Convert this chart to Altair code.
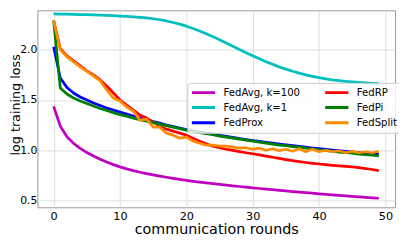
import altair as alt
import pandas as pd

rounds = list(range(50))

fedavg_k100 = [1.437, 1.24, 1.135, 1.068, 1.018, 0.977, 0.942, 0.91, 0.882, 0.857,
               0.834, 0.814, 0.797, 0.781, 0.767, 0.754, 0.742, 0.731, 0.72, 0.71,
               0.70, 0.691, 0.683, 0.675, 0.667, 0.66, 0.653, 0.646, 0.639, 0.632,
               0.625, 0.619, 0.613, 0.607, 0.601, 0.595, 0.589, 0.583, 0.577, 0.572,
               0.566, 0.561, 0.556, 0.55, 0.545, 0.54, 0.535, 0.53, 0.526, 0.522]
fedavg_k1 = [2.357, 2.356, 2.355, 2.353, 2.351, 2.349, 2.347, 2.345, 2.342, 2.339,
             2.336, 2.332, 2.328, 2.323, 2.317, 2.309, 2.299, 2.287, 2.272, 2.255,
             2.235, 2.212, 2.187, 2.16, 2.131, 2.1, 2.068, 2.036, 2.003, 1.971,
             1.94, 1.91, 1.882, 1.855, 1.83, 1.807, 1.786, 1.767, 1.75, 1.735,
             1.722, 1.711, 1.701, 1.693, 1.686, 1.68, 1.675, 1.67, 1.666, 1.662]
fedprox = [2.03, 1.72, 1.625, 1.57, 1.53, 1.50, 1.47, 1.445, 1.42, 1.40,
           1.38, 1.36, 1.34, 1.32, 1.30, 1.285, 1.27, 1.25, 1.235, 1.22,
           1.205, 1.195, 1.18, 1.17, 1.16, 1.148, 1.138, 1.127, 1.117, 1.107,
           1.097, 1.088, 1.079, 1.07, 1.062, 1.054, 1.046, 1.038, 1.03, 1.022,
           1.015, 1.008, 1.001, 0.995, 0.989, 0.983, 0.977, 0.972, 0.967, 0.962]
fedrp = [2.29, 2.01, 1.94, 1.89, 1.84, 1.79, 1.75, 1.70, 1.64, 1.57,
         1.50, 1.45, 1.40, 1.35, 1.32, 1.28, 1.24, 1.21, 1.19, 1.17,
         1.15, 1.12, 1.09, 1.065, 1.04, 1.025, 1.01, 0.998, 0.986, 0.975,
         0.965, 0.953, 0.942, 0.93, 0.918, 0.907, 0.897, 0.887, 0.878, 0.87,
         0.863, 0.857, 0.85, 0.844, 0.839, 0.834, 0.826, 0.818, 0.808, 0.797]
fedpi = [2.29, 1.62, 1.56, 1.52, 1.49, 1.465, 1.44, 1.415, 1.395, 1.375,
         1.355, 1.34, 1.32, 1.305, 1.29, 1.275, 1.26, 1.245, 1.23, 1.215,
         1.20, 1.19, 1.175, 1.165, 1.155, 1.14, 1.13, 1.12, 1.11, 1.10,
         1.09, 1.08, 1.07, 1.06, 1.05, 1.045, 1.035, 1.03, 1.02, 1.01,
         1.005, 0.995, 0.99, 0.98, 0.975, 0.97, 0.96, 0.955, 0.95, 0.943]
fedsplit = [2.29, 2.00, 1.93, 1.88, 1.83, 1.785, 1.74, 1.69, 1.60, 1.52,
            1.49, 1.43, 1.39, 1.30, 1.31, 1.23, 1.23, 1.17, 1.15, 1.12,
            1.13, 1.09, 1.07, 1.05, 1.05, 1.04, 1.04, 1.03, 1.02, 1.025,
            1.01, 1.02, 1.0, 1.015, 0.995, 1.01, 0.99, 1.015, 0.985, 1.01,
            0.985, 1.0, 0.985, 0.995, 0.975, 0.99, 0.975, 0.985, 0.975, 0.99]

names = ["FedAvg, k=100", "FedAvg, k=1", "FedProx", "FedRP", "FedPi", "FedSplit"]
series = [fedavg_k100, fedavg_k1, fedprox, fedrp, fedpi, fedsplit]
colors = ["#bf00bf", "#00bfbf", "#0000ff", "#ff0000", "#008000", "#ff8c00"]

rows = []
for k, (n, vals) in enumerate(zip(names, series)):
    for r, v in zip(rounds, vals):
        rows.append({"series": n, "round": r, "loss": v, "k": k})
df = pd.DataFrame(rows)

FONT = "DejaVu Sans"

chart = alt.Chart(df).mark_line(strokeWidth=2.8, strokeJoin="round").encode(
    x=alt.X("round:Q",
            scale=alt.Scale(domain=[-2.45, 51.45], nice=False, zero=False),
            axis=alt.Axis(values=[0, 10, 20, 30, 40, 50], title="communication rounds",
                          titleY=27, titleBaseline="alphabetic", labelPadding=3,
                          labelFontSize=11.5)),
    y=alt.Y("loss:Q",
            scale=alt.Scale(domain=[0.432, 2.393], nice=False, zero=False),
            axis=alt.Axis(values=[0.5, 1.0, 1.5, 2.0], format=".1f", title="log training loss",
                          titleX=-18, titleY=96, titleBaseline="alphabetic",
                          titleFontSize=13, labelPadding=0.5)),
    color=alt.Color("series:N",
                    scale=alt.Scale(domain=names, range=colors),
                    legend=alt.Legend(title=None, orient="none", legendX=153, legendY=74,
                                      columns=2, symbolType="stroke", symbolSize=560,
                                      symbolStrokeWidth=3, labelFontSize=10.3, labelFont=FONT,
                                      labelColor="black", labelOffset=7, columnPadding=23,
                                      rowPadding=1.5, clipHeight=13.5, padding=3,
                                      strokeColor="#cccccc", fillColor="rgba(255,255,255,0.8)",
                                      cornerRadius=3)),
    order=alt.Order("k:Q"),
    detail="k:N",
).properties(
    width=365, height=201,
    autosize=alt.AutoSizeParams(type="none"),
    padding={"left": 30, "top": 0, "right": 4, "bottom": 30},
).configure_view(
    stroke="#999999", strokeWidth=1
).configure_axis(
    domain=False, ticks=False, grid=True, gridColor="#dddddd", gridWidth=1,
    labelFont=FONT, labelFontSize=11, labelColor="black",
    titleFont=FONT, titleFontSize=14.6, titleFontWeight="normal", titleColor="black",
)

chart.save("out.html", embed_options={"renderer": "svg", "actions": False})
